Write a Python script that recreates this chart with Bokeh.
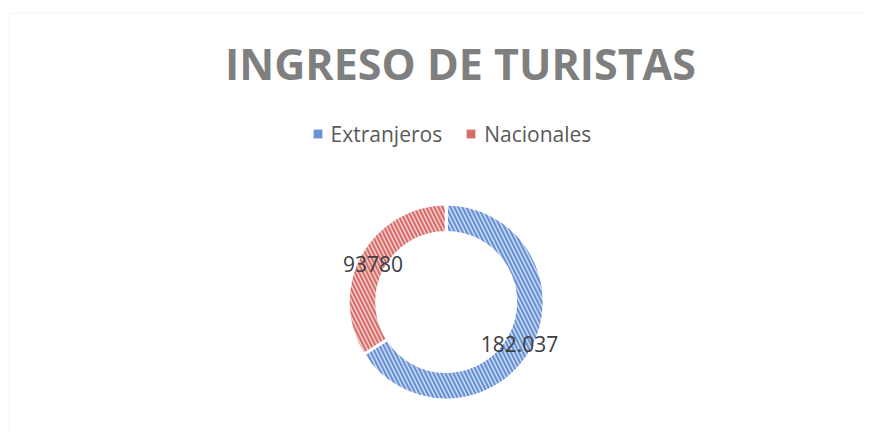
import numpy as np
from bokeh.plotting import figure
from bokeh.models import Legend, LegendItem, BoxAnnotation, ColumnDataSource, Range1d
from bokeh.core.properties import value
from bokeh.embed import file_html
from bokeh.resources import INLINE

# ---- data ----
categories = ["Extranjeros", "Nacionales"]
values = [182037, 93780]
value_labels = ["182.037", "93780"]
fill_colors = ["#c8d7f0", "#f4c8c7"]
hatch_colors = ["#5584cf", "#cf5e5b"]
swatch_colors = ["#6a93d4", "#d46e6b"]

W, H = 863, 433
p = figure(width=W, height=H, output_backend="svg", toolbar_location=None,
           x_range=Range1d(0, W), y_range=Range1d(0, H),
           min_border=0, outline_line_color=None)
p.axis.visible = False
p.grid.visible = False
p.background_fill_color = "white"

# chart border (left + top visible)
p.add_layout(BoxAnnotation(left=8.5, top=H - 12.5, right=3000, bottom=-3000,
                           fill_alpha=0, line_color="#d9d9d9", line_width=1))

# donut geometry
cx, cy = 445.7, H - 301.5
r_in, r_out = 69.5, 98.0

vals = np.array(values, dtype=float)
frac = vals / vals.sum()
ends = np.cumsum(frac)
starts = ends - frac
start_ang = np.pi / 2 - starts * 2 * np.pi
end_ang = np.pi / 2 - ends * 2 * np.pi

src = ColumnDataSource(dict(
    x=[cx] * len(vals), y=[cy] * len(vals),
    start=start_ang, end=end_ang,
    fill=fill_colors, hatch=hatch_colors, cat=categories,
))
p.annular_wedge(x="x", y="y", inner_radius=r_in, outer_radius=r_out,
                start_angle="start", end_angle="end", direction="clock",
                fill_color="fill", hatch_color="hatch", hatch_pattern="\\",
                hatch_scale=8, hatch_weight=2, hatch_alpha=0.85,
                line_color="white", line_width=3, source=src)

# legend proxy renderers (square swatches)
leg_src = ColumnDataSource(dict(x=[np.nan] * 2, y=[np.nan] * 2,
                                sw=swatch_colors))
lr = p.block(x="x", y="y", width=1, height=1, fill_color="sw",
             line_color=None, source=leg_src)

# data labels
lab_x = [519, 372.5]
lab_y = [H - 343, H - 263]
p.text(x=lab_x, y=lab_y, text=value_labels, text_align="center",
       text_baseline="middle", text_font=value("Open Sans"),
       text_font_size="21px", text_color="#404040")

# title
p.text(x=[460], y=[H - 63], text=["INGRESO DE TURISTAS"],
       text_align="center", text_baseline="middle",
       text_font=value("Open Sans"), text_font_style="bold",
       text_font_size="43px", text_color="#7f7f7f")

# legend
items = [LegendItem(label=c, renderers=[lr], index=i) for i, c in enumerate(categories)]
leg = Legend(items=items, orientation="horizontal", location=(311.6, 285.5),
             glyph_width=11, glyph_height=11, label_standoff=8, spacing=23,
             padding=0, margin=0, border_line_color=None,
             background_fill_alpha=0,
             label_text_font="Open Sans", label_text_font_size="21px",
             label_text_color="#595959")
p.add_layout(leg, "center")

open("out.html", "w").write(file_html(p, INLINE))
